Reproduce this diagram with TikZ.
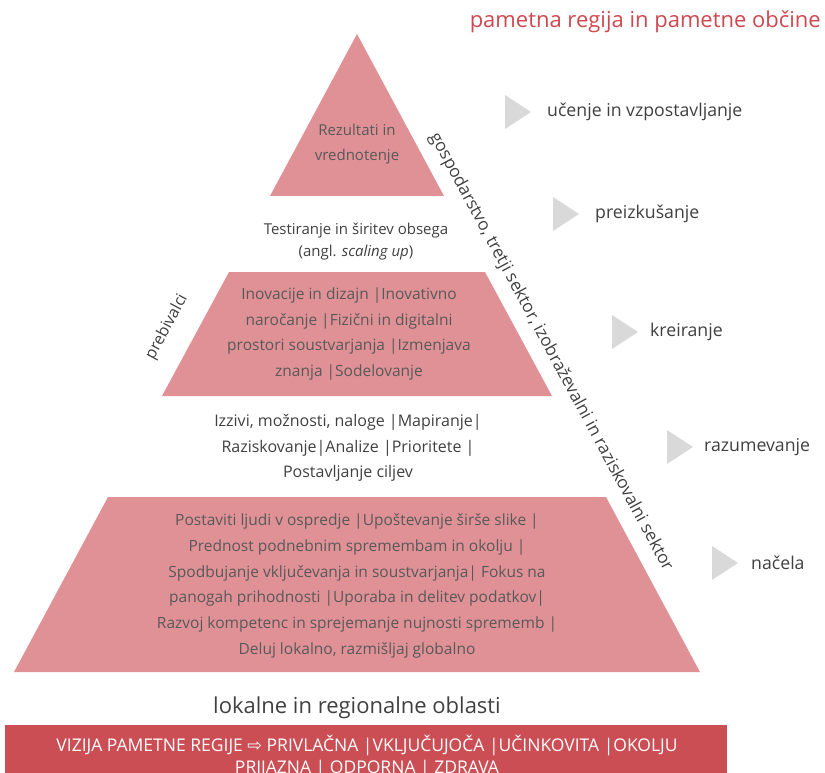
\documentclass[tikz,border=0pt]{standalone}
\usepackage{fontspec}
\setmainfont{Open Sans}
\newfontfamily\symfont{DejaVu Sans}
\definecolor{pyrpink}{RGB}{223,145,150}
\definecolor{bannerred}{RGB}{203,78,84}
\definecolor{titlered}{RGB}{207,72,80}
\definecolor{arrowgrey}{RGB}{217,217,217}
\definecolor{txtgrey}{RGB}{89,89,89}
\definecolor{darkgrey}{RGB}{64,64,64}
\tikzset{
  pyrtext/.style={align=center, text=txtgrey, inner sep=0pt, font=\fontsize{15.5}{25.8}\selectfont},
  steplabel/.style={anchor=west, text=darkgrey, inner sep=0pt, font=\fontsize{17.7}{20}\selectfont},
  sidelabel/.style={text=darkgrey, inner sep=0pt, font=\fontsize{17.2}{20}\selectfont},
}
\begin{document}
\begin{tikzpicture}[x=1pt,y=-1pt]
\useasboundingbox (0,0) rectangle (825,773);
% pyramid layers
\fill[pyrpink] (357,34) -- (444,196) -- (270,196) -- cycle;
\fill[pyrpink] (229,272) -- (485,272) -- (552,396) -- (162,396) -- cycle;
\fill[pyrpink] (108,497) -- (606,497) -- (700,672) -- (14,672) -- cycle;
% banner
\fill[bannerred] (5,725) rectangle (727,773);
% texts in pyramid
\node[pyrtext, font=\fontsize{15}{24.5}\selectfont] (top) at (357,144) {Rezultati in\\vrednotenje};
\node[pyrtext, text=darkgrey, font=\fontsize{15}{22}\selectfont] (test) at (356,242) {Testiranje in širitev obsega\\(angl. \textit{scaling up})};
\node[pyrtext] (mid) at (349,334) {Inovacije in dizajn |Inovativno\\naročanje |Fizični in digitalni\\prostori soustvarjanja |Izmenjava\\znanja |Sodelovanje};
\node[pyrtext, text=darkgrey, font=\fontsize{16}{25.5}\selectfont] (izz) at (348,448) {Izzivi, možnosti, naloge |Mapiranje|\\Raziskovanje|Analize |Prioritete |\\Postavljanje ciljev};
\node[pyrtext] (bot) at (357,586) {Postaviti ljudi v ospredje |Upoštevanje širše slike |\\Prednost podnebnim spremembam in okolju |\\Spodbujanje vključevanja in soustvarjanja| Fokus na\\panogah prihodnosti |Uporaba in delitev podatkov|\\Razvoj kompetenc in sprejemanje nujnosti sprememb |\\Deluj lokalno, razmišljaj globalno};
% side diagonal labels
\node[sidelabel, rotate=-61.7] (sektor) at (551,352) {gospodarstvo, tretji sektor, izobraževalni in raziskovalni sektor};
\node[sidelabel, font=\fontsize{16}{20}\selectfont, rotate=61.7] (preb) at (167,327) {prebivalci};
% title
\node[text=titlered, inner sep=0pt, anchor=east, font=\fontsize{22}{24}\selectfont] (title) at (821,22) {pametna regija in pametne občine};
% step arrows and labels
\foreach \n/\xa/\ya/\xt/\lab in {1/505/112/547/učenje in vzpostavljanje, 2/553/214/595/preizkušanje, 3/612/332/650/kreiranje, 4/667/447/704/razumevanje, 5/712/563/751/načela}{
  \fill[arrowgrey] (\xa,\ya-17) -- (\xa+26,\ya) -- (\xa,\ya+17) -- cycle;
  \node[steplabel] (lab\n) at (\xt,\ya) {\lab};
}
% bottom labels
\node[text=darkgrey, inner sep=0pt, font=\fontsize{22}{24}\selectfont] (lokal) at (357,708) {lokalne in regionalne oblasti};
\node[text=white, align=center, inner sep=0pt, font=\fontsize{17.5}{22}\selectfont] (vizija) at (367,756) {VIZIJA PAMETNE REGIJE {\symfont ⇨} PRIVLAČNA |VKLJUČUJOČA |UČINKOVITA |OKOLJU\\PRIJAZNA | ODPORNA | ZDRAVA};
\end{tikzpicture}
\end{document}
